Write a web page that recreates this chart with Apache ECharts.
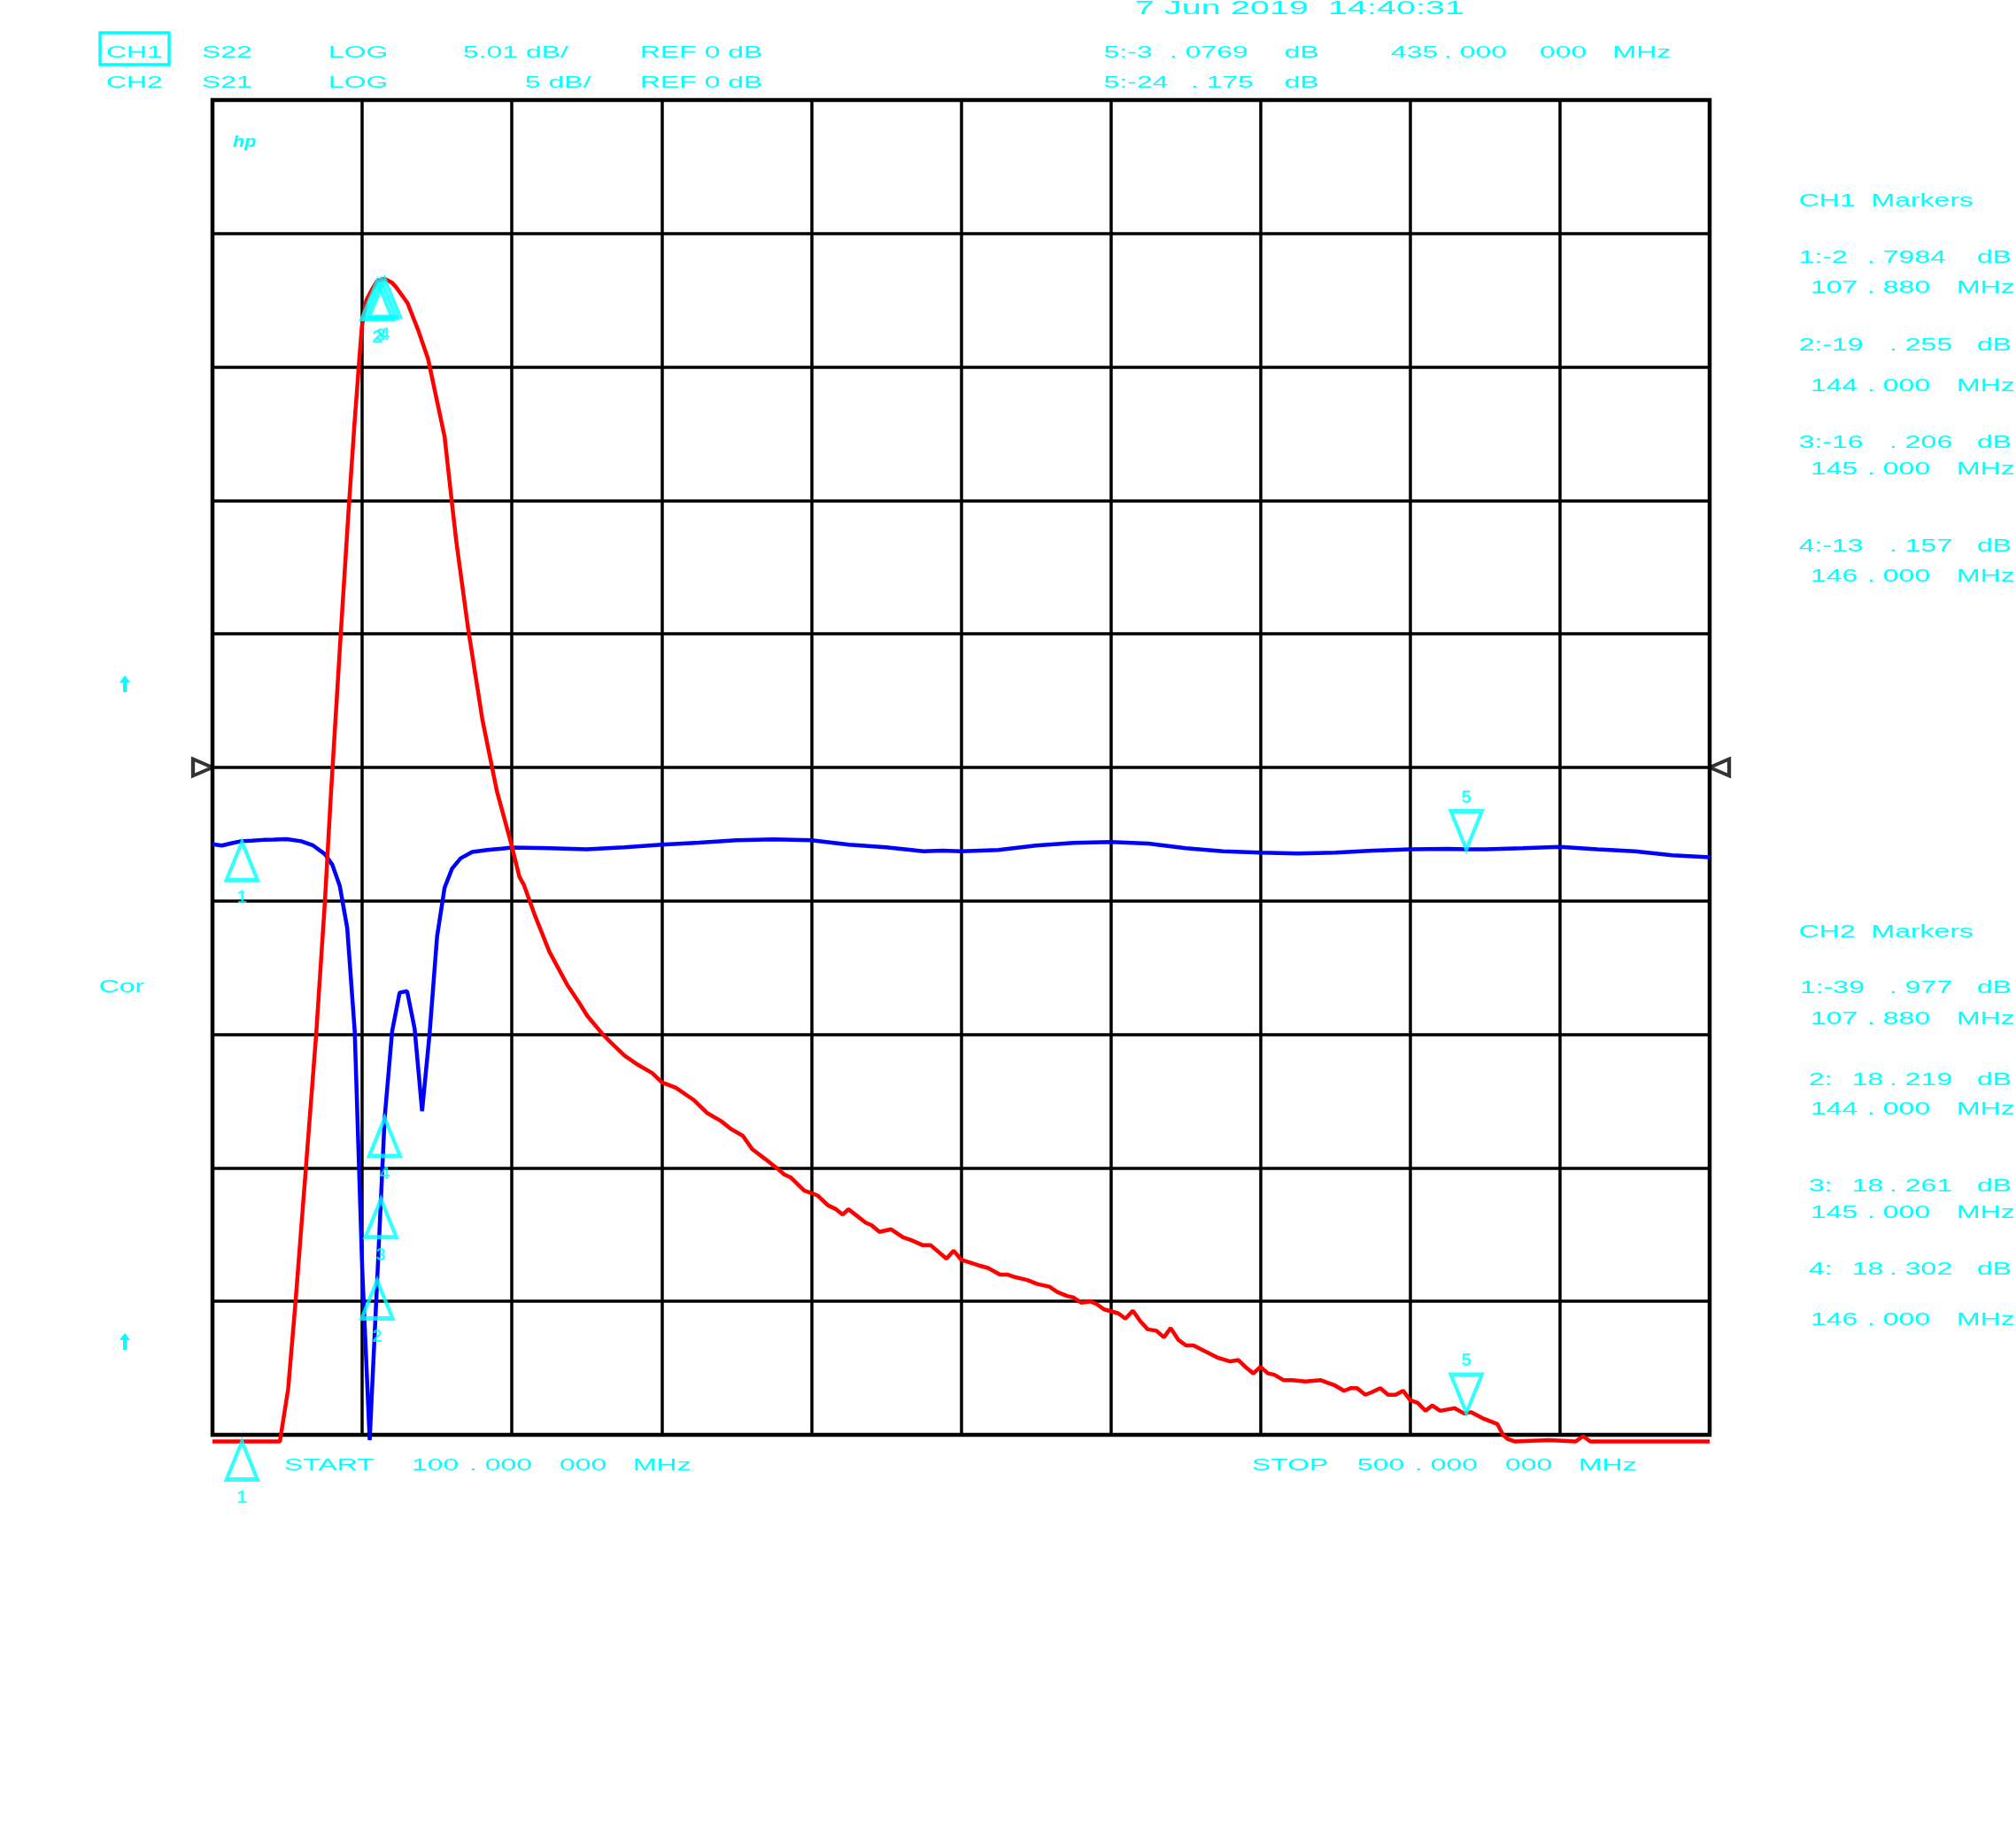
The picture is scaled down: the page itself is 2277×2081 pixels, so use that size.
<!DOCTYPE html>
<html><head><meta charset="utf-8">
<script src="https://cdn.jsdelivr.net/npm/echarts@6/dist/echarts.min.js"></script>
<style>html,body{margin:0;padding:0;background:#fff}#c{width:2277px;height:2081px}</style>
</head><body><div id="c"></div>
<script>
// ---- CH1: S22 (blue), 5.01 dB/div, REF 0 dB ----
const s22Freq = [100,102.5,105,107.6,110.5,113.5,116.5,119.8,123.7,126.9,130,132,134,136,138,140,142,144,146,148,150,152,154,156,158,160,162,164,166.3,169.4,173.4,177.3,180,190,200,210,220,230,240,250,260,270,280,290,295,300,310,320,330,340,350,360,370,380,390,400,410,420,430,435,440,450,460,470,480,490,500];
const s22Db = [-2.88,-2.93,-2.85,-2.77,-2.75,-2.72,-2.71,-2.69,-2.77,-2.93,-3.25,-3.65,-4.44,-6.03,-9.9,-18.8,-25.25,-19.255,-13.157,-9.9,-8.45,-8.4,-9.8,-12.9,-10.0,-6.35,-4.52,-3.8,-3.41,-3.17,-3.1,-3.05,-3.01,-3.03,-3.07,-3.0,-2.9,-2.82,-2.73,-2.7,-2.73,-2.9,-3.0,-3.15,-3.12,-3.15,-3.1,-2.93,-2.83,-2.8,-2.86,-3.03,-3.15,-3.2,-3.23,-3.2,-3.12,-3.07,-3.06,-3.077,-3.07,-3.03,-2.98,-3.07,-3.15,-3.3,-3.37];

// ---- CH2: S21 (red), 5 dB/div, REF 0 dB ----
const s21Freq = [100,118,120.2,122.2,124.9,127.7,130,131.6,134,136.3,137.9,139.1,139.9,141.1,142.6,144,146,148,149,152.1,154.9,157.6,162,164.3,165.2,168.3,172.1,176,179.7,182,183.2,186.3,190,194.8,197.9,200.1,204.3,206.4,210.1,213.8,217.5,220.1,223.8,228.5,232.2,235.9,238.6,241.7,244.2,247.5,250.7,252.8,254.4,258.1,260.2,261.8,264.4,266.6,268.4,269.9,274.5,276.1,278.2,281.3,284.5,286.6,289.8,291.9,296.1,298,300.1,302.4,304.6,307.2,310.4,312.5,314.6,317.7,320.4,323.6,325.7,328.3,329.9,332.1,334.5,336.2,338.2,342,343.9,345.9,347.9,349.9,352.2,354.2,356,358.1,360.1,362.1,365.6,368.4,371.9,374.1,376.3,378.1,380,382,383.7,386.1,388.5,392,396,397.9,399.9,402.3,404.2,405.8,408,409.8,412,414.1,416.1,418.1,420,422,424.1,425.9,428,431.8,434.4,436.2,439.7,443.3,444.8,446,448,457.1,464.2,466.2,468.1,500];
const s21Db = [-25.25,-25.25,-23.3,-20.0,-15.1,-10.0,-5.1,-1.1,4.4,9.5,12.8,15.05,16.5,17.5,17.9,18.219,18.302,18.15,18.0,17.4,16.4,15.3,12.4,9.5,8.4,5.2,1.8,-0.9,-2.8,-4.1,-4.4,-5.6,-6.9,-8.15,-8.8,-9.3,-10.0,-10.3,-10.8,-11.15,-11.45,-11.8,-12.0,-12.45,-12.95,-13.25,-13.55,-13.8,-14.3,-14.65,-15.0,-15.25,-15.35,-15.85,-15.95,-16.05,-16.4,-16.55,-16.75,-16.55,-17.05,-17.15,-17.4,-17.3,-17.6,-17.7,-17.9,-17.9,-18.4,-18.1,-18.45,-18.55,-18.65,-18.75,-19.0,-19.0,-19.1,-19.2,-19.35,-19.45,-19.65,-19.8,-19.85,-20.05,-20.0,-20.1,-20.3,-20.45,-20.65,-20.35,-20.75,-21.05,-21.1,-21.35,-21.0,-21.45,-21.65,-21.65,-21.9,-22.1,-22.25,-22.2,-22.5,-22.7,-22.45,-22.7,-22.75,-22.95,-22.95,-23.0,-22.95,-23.05,-23.15,-23.35,-23.25,-23.25,-23.5,-23.4,-23.25,-23.5,-23.5,-23.35,-23.7,-23.8,-24.1,-23.9,-24.1,-24.0,-24.2,-24.15,-24.4,-24.6,-25.0,-25.15,-25.25,-25.2,-25.25,-25.05,-25.25,-25.25];

// ---- markers ----
const markerNames = ['1','2','3','4','5'];
const markerFreq = [107.88,144,145,146,435];
const ch1MarkerDb = [-2.7984,-19.255,-16.206,-13.157,-3.0769];
const ch2MarkerDb = [-39.977,18.219,18.261,18.302,-24.175];
const ch2Clip = -25.25;   // display floor of CH2 trace

// ---- axis scales ----
const startMHz = 100, stopMHz = 500;
const ch1PerDiv = 5.01, ch2PerDiv = 5, divisions = 10;

// ---- annotation texts ----
const headerRow1 = ['CH1','S22','LOG','5.01 dB/','REF 0 dB'];
const headerRow2 = ['CH2','S21','LOG','5 dB/','REF 0 dB'];
const dateText = '7 Jun 2019  14:40:31';
const mk5Row1 = ['5:-3', '. 0769', 'dB', '435', '. 000', '000', 'MHz'];
const mk5Row2 = ['5:-24', '. 175', 'dB'];
const startText = ['START', '100', '. 000', '000', 'MHz'];
const stopText = ['STOP', '500', '. 000', '000', 'MHz'];
const ch1List = [['1:-2','. 7984'],['2:-19','. 255'],['3:-16','. 206'],['4:-13','. 157']];
const ch2List = [['1:-39','. 977'],['2:','18','. 219'],['3:','18','. 261'],['4:','18','. 302']];
const freqList = [['107','. 880'],['144','. 000'],['145','. 000'],['146','. 000']];

const CYAN = '#00ffff';
const FONT = 'Liberation Sans';
function T(x, y, s, size, sx, extra) {
  return Object.assign({type:'text', x:x, y:y, scaleX:sx, silent:true,
    style:{text:s, fill:CYAN, fontSize:size, fontFamily:FONT, verticalAlign:'middle', align:'left'}}, extra || {});
}
const G = [];
// header
const hx1 = [120,228,371,523,723], hx2 = [120,228,371,593,723];
headerRow1.forEach((s,i)=>G.push(T(hx1[i],60,s,19,1.68)));
headerRow2.forEach((s,i)=>G.push(T(hx2[i],94,s,19,1.68)));
G.push({type:'rect', shape:{x:113,y:37,width:78,height:36}, style:{fill:'none', stroke:CYAN, lineWidth:3.5}, silent:true});
G.push(T(1282,10,dateText,22,1.8));
const m1x = [1246.7,1321,1450.7,1571,1631,1739,1821.6];
mk5Row1.forEach((s,i)=>G.push(T(m1x[i],60,s,19,1.68)));
const m2x = [1246.7,1345,1450.7];
mk5Row2.forEach((s,i)=>G.push(T(m2x[i],94,s,19,1.68)));
// start / stop
const stx = [321,465,530,632,715], spx = [1414,1533,1598,1700,1783];
startText.forEach((s,i)=>G.push(T(stx[i],1656,s,19,1.68)));
stopText.forEach((s,i)=>G.push(T(spx[i],1656,s,19,1.68)));
// marker lists
G.push(T(2031.7,227,'CH1  Markers',20,1.6));
const c1y = [291,390,500,617], f1y = [325.5,436,530.5,651];
const c1dot = [2109,2134,2134,2134];
ch1List.forEach((r,i)=>{
  G.push(T(2031.7,c1y[i],r[0],20,1.6));
  G.push(T(c1dot[i],c1y[i],r[1],20,1.6));
  G.push(T(2233,c1y[i],'dB',20,1.6));
  G.push(T(2045,f1y[i],freqList[i][0],20,1.6));
  G.push(T(2109,f1y[i],freqList[i][1],20,1.6));
  G.push(T(2210,f1y[i],'MHz',20,1.6));
});
G.push(T(2031.7,1053.3,'CH2  Markers',20,1.6));
const c2y = [1116.7,1220,1340,1434.5], f2y = [1151,1253.7,1370.5,1491];
ch2List.forEach((r,i)=>{
  if (r.length === 2) {
    G.push(T(2033,c2y[i],r[0],20,1.6));
    G.push(T(2134,c2y[i],r[1],20,1.6));
  } else {
    G.push(T(2043,c2y[i],r[0],20,1.6));
    G.push(T(2091.7,c2y[i],r[1],20,1.6));
    G.push(T(2134,c2y[i],r[2],20,1.6));
  }
  G.push(T(2233,c2y[i],'dB',20,1.6));
  G.push(T(2045,f2y[i],freqList[i][0],20,1.6));
  G.push(T(2109,f2y[i],freqList[i][1],20,1.6));
  G.push(T(2210,f2y[i],'MHz',20,1.6));
});
// left annotations
G.push(T(111.7,1115,'Cor',20,1.6));
function arrow(cx, top){
  return {type:'polygon', silent:true, shape:{points:[[cx,top],[cx+6,top+8],[cx+2,top+8],[cx+2,top+19],[cx-2,top+19],[cx-2,top+8],[cx-6,top+8]]}, style:{fill:CYAN}};
}
G.push(arrow(141,763));
G.push(arrow(141,1506));
G.push(T(263,161,'hp',18,1.2,{style:{text:'hp', fill:CYAN, fontSize:18, fontFamily:FONT, fontWeight:'bold', fontStyle:'italic', verticalAlign:'middle', align:'left'}}));

const UP = 'path://M5,0L10,10L0,10Z';
const DOWN = 'path://M0,0L10,0L5,10Z';
const RIGHT = 'path://M0,0L10,5L0,10Z';
const LEFT = 'path://M10,0L0,5L10,10Z';

function mk(vals, idxs, floor){
  return idxs.map(i=>({name:markerNames[i], value:[markerFreq[i], floor!==undefined ? Math.max(vals[i], floor) : vals[i]]}));
}
const hollow = {color:'rgba(0,0,0,0)', borderColor:CYAN, borderWidth:4.5};
const lbl = (pos, dist)=>({show:true, position:pos, distance:dist, formatter:'{b}', color:CYAN, fontSize:20, fontWeight:'bold', fontFamily:FONT});
function markerSeries(yi, data, up){
  return {type:'scatter', xAxisIndex:0, yAxisIndex:yi, data:data, clip:false, silent:true, z:5,
    symbol: up ? UP : DOWN, symbolSize:[35,43], symbolOffset:[0, up ? '50%' : '-50%'],
    itemStyle:hollow, label: up ? lbl('bottom',8) : lbl('top',3), emphasis:{disabled:true}};
}

const option = {
  animation:false,
  backgroundColor:'#ffffff',
  graphic:{elements:G},
  grid:{left:240, top:113, width:1691, height:1508, show:true, borderColor:'#000', borderWidth:4.5, backgroundColor:'rgba(0,0,0,0)'},
  xAxis:[
    {type:'value', min:startMHz, max:stopMHz, show:false},
    {type:'value', min:0, max:stopMHz-startMHz, interval:(stopMHz-startMHz)/divisions,
      axisLine:{show:false}, axisTick:{show:false}, axisLabel:{show:false},
      splitLine:{show:true, lineStyle:{color:'#000', width:3.5}}}
  ],
  yAxis:[
    {type:'value', min:-ch1PerDiv*divisions/2, max:ch1PerDiv*divisions/2, show:false},
    {type:'value', min:-ch2PerDiv*divisions/2, max:ch2PerDiv*divisions/2, interval:ch2PerDiv,
      axisLine:{show:false}, axisTick:{show:false}, axisLabel:{show:false},
      splitLine:{show:true, lineStyle:{color:'#000', width:3.5}}}
  ],
  series:[
    {type:'line', name:'S22', xAxisIndex:0, yAxisIndex:0, data:s22Freq.map((f,i)=>[f,s22Db[i]]),
      showSymbol:false, clip:false, silent:true, z:3, lineStyle:{color:'#0000ff', width:4.5}},
    {type:'line', name:'S21', xAxisIndex:0, yAxisIndex:1, data:s21Freq.map((f,i)=>[f,s21Db[i]]),
      showSymbol:false, clip:false, silent:true, z:4, lineStyle:{color:'#ff0000', width:4.5}},
    markerSeries(0, mk(ch1MarkerDb,[0,1,2,3]), true),
    markerSeries(0, mk(ch1MarkerDb,[4]), false),
    markerSeries(1, mk(ch2MarkerDb,[0,1,2,3], ch2Clip), true),
    markerSeries(1, mk(ch2MarkerDb,[4]), false),
    {type:'scatter', xAxisIndex:0, yAxisIndex:1, data:[[startMHz,0]], clip:false, silent:true, z:5,
      symbol:RIGHT, symbolSize:[22,19], symbolOffset:['-50%',0],
      itemStyle:{color:'rgba(0,0,0,0)', borderColor:'#000', borderWidth:4}},
    {type:'scatter', xAxisIndex:0, yAxisIndex:1, data:[[stopMHz,0]], clip:false, silent:true, z:5,
      symbol:LEFT, symbolSize:[22,19], symbolOffset:['50%',0],
      itemStyle:{color:'rgba(0,0,0,0)', borderColor:'#000', borderWidth:4}}
  ]
};
const chart = echarts.init(document.getElementById('c'));
chart.setOption(option);
</script>
</body></html>
